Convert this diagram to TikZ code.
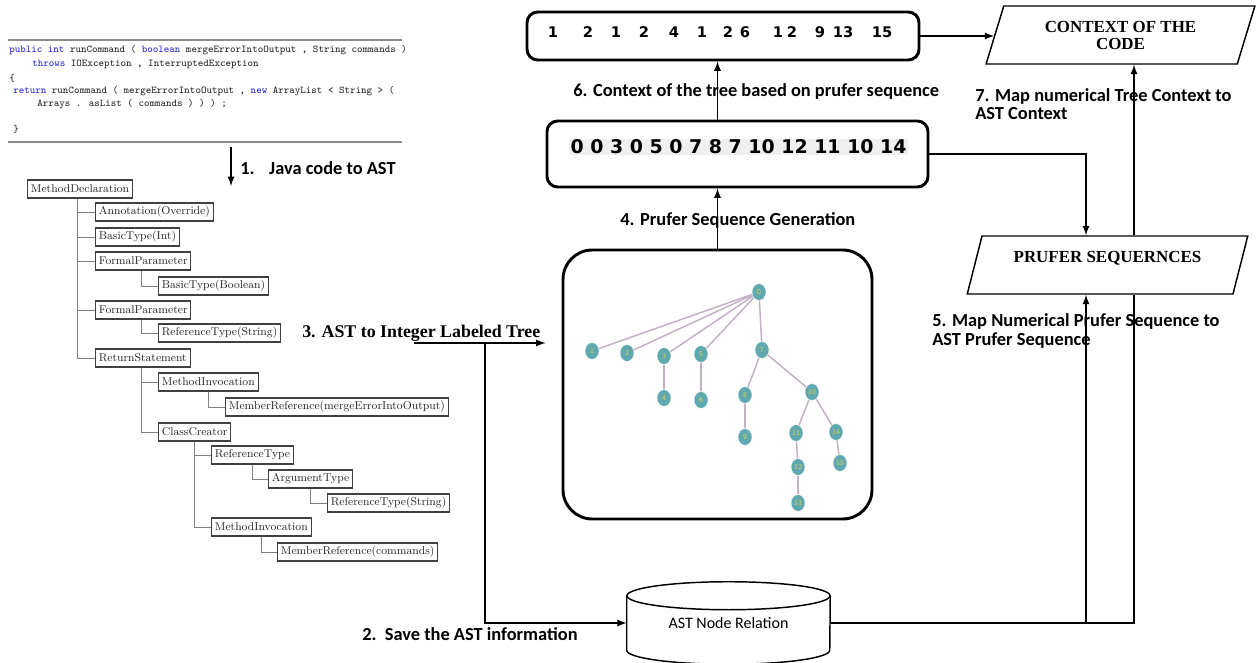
\documentclass[tikz,border=0pt]{standalone}
\usepackage{fontspec}
\usepackage{tikz}
\usetikzlibrary{shapes,arrows,positioning}

\newfontfamily\calib{Carlito}
\newfontfamily\timesf{Liberation Serif}
\newfontfamily\dejavu{DejaVu Sans}

\definecolor{kwblue}{RGB}{40,40,210}
\definecolor{nodeteal}{RGB}{96,168,176}
\definecolor{nodelbl}{RGB}{222,214,80}
\definecolor{edgemauve}{RGB}{196,176,198}

\newcommand{\kw}[1]{\textcolor{kwblue}{#1}}

\tikzset{
  flow/.style={-latex,line width=1.4pt},
  plain/.style={line width=1.4pt},
  astbox/.style={draw=black!75,line width=0.8pt,anchor=west,inner xsep=2.5pt,inner ysep=0pt,minimum height=13.5pt,text=black!85,font=\fontsize{8.5}{10}\selectfont},
  astline/.style={draw=black!50,line width=0.7pt},
  codeline/.style={anchor=west,inner sep=0pt,text=black!85,font=\fontsize{7.8}{9}\ttfamily\selectfont},
  steplabel/.style={anchor=west,inner sep=0pt,align=left,font=\calib\bfseries\fontsize{13.8}{13.8}\selectfont},
  seqbox/.style={draw,rounded corners=8pt,line width=2.2pt},
  datashape/.style={draw,trapezium,trapezium left angle=72,trapezium right angle=108,trapezium stretches=true,line width=1.1pt,align=center,minimum height=43.5pt,font=\timesf\bfseries\fontsize{12.7}{12.75}\selectfont},
  tnode/.style={ellipse,fill=nodeteal,draw=white,line width=0.3pt,minimum width=10.5pt,minimum height=12.5pt,inner sep=0pt,text=nodelbl,font=\sffamily\fontsize{5.5}{5.5}\selectfont},
  tedge/.style={draw=edgemauve,line width=1.1pt}
}

\begin{document}
\begin{tikzpicture}[x=0.75pt,y=-0.75pt]
	\useasboundingbox (0,0) rectangle (1257,663);
	\clip (0,0) rectangle (1257,663);
	\fill[white] (0,0) rectangle (1257,663);

	% the java source
	\draw[black!45,line width=1.1pt] (8,40) -- (402,40);
	\draw[black!45,line width=1.1pt] (8,142) -- (402,142);
	\node[codeline] (code1) at (9,50) {\kw{public} \kw{int} runCommand ( \kw{boolean} mergeErrorIntoOutput , String commands )};
	\node[codeline] (code2) at (32,64) {\kw{throws} IOException , InterruptedException};
	\node[codeline] (code3) at (9,78) {\{};
	\node[codeline] (code4) at (13,91) {\kw{return} runCommand ( mergeErrorIntoOutput , \kw{new} ArrayList < String > (};
	\node[codeline] (code5) at (37,104) {Arrays . asList ( commands ) ) ) ;};
	\node[codeline] (code6) at (13,129) {\}};

	\coordinate (s1top) at (231,147);
	\coordinate (s1bot) at (231,186);
	\draw[flow] (s1top) -- (s1bot);
	\node[steplabel] (lab1) at (240,168) {1.\hspace{11pt}Java code to AST};

	% the AST
	\node[astbox] (md) at (27,189) {MethodDeclaration};
	\node[astbox] (ann) at (95,212) {Annotation(Override)};
	\node[astbox] (bti) at (95,237) {BasicType(Int)};
	\node[astbox] (fp1) at (95,261) {FormalParameter};
	\node[astbox] (btb) at (158,286) {BasicType(Boolean)};
	\node[astbox] (fp2) at (95,310) {FormalParameter};
	\node[astbox] (rts) at (158,333) {ReferenceType(String)};
	\node[astbox] (rs) at (95,358) {ReturnStatement};
	\node[astbox] (mi1) at (158,382) {MethodInvocation};
	\node[astbox] (mr1) at (225,407) {MemberReference(mergeErrorIntoOutput)};
	\node[astbox] (cc) at (158,432) {ClassCreator};
	\node[astbox] (rt) at (211,455) {ReferenceType};
	\node[astbox] (at) at (268,479) {ArgumentType};
	\node[astbox] (rts2) at (327,503) {ReferenceType(String)};
	\node[astbox] (mi2) at (211,527) {MethodInvocation};
	\node[astbox] (mr2) at (277,552) {MemberReference(commands)};
	\foreach \p/\c/\o in {md/ann/38,md/bti/38,md/fp1/38,md/fp2/38,md/rs/38,fp1/btb/35,fp2/rts/35,rs/mi1/35,rs/cc/35,mi1/mr1/37.5,cc/rt/27,cc/mi2/27,rt/at/31,at/rts2/31.5,mi2/mr2/37.5}
		\draw[astline] ([xshift=\o pt]\p.south west) |- (\c.west);

	% boxes and shapes
	\node[seqbox,minimum width=294pt,minimum height=36pt] (ctxbox) at (723,36) {};
	\foreach \d/\x [count=\i] in {1/553,2/588,1/616,2/644,4/674,1/702,2/728,6/745,1/778,2/792,9/820,13/843,15/882}
		\node[inner sep=0pt,font=\dejavu\bfseries\fontsize{11}{13}\selectfont] (cv\i) at (\x,32) {\d};
	\node[seqbox,minimum width=285.75pt,minimum height=49.5pt] (numbox) at (737.5,154) {};
	\node[fill=black!6,inner sep=1pt,font=\dejavu\bfseries\fontsize{14.2}{16}\selectfont] (numseq) at (738.5,147) {0 0 3 0 5 0 7 8 7 10 12 11 10 14};
	\node[seqbox,rounded corners=22pt,minimum width=231.75pt,minimum height=201.75pt] (treebox) at (717.5,384.5) {};
	\node[datashape,minimum width=201.75pt] (context) at (1120.5,35) {CONTEXT OF THE\\CODE};
	\node[datashape,minimum width=210.75pt,text height=8pt,text depth=12pt] (prufer) at (1107.5,265) {PRUFER SEQUERNCES};
	\node[minimum width=152.25pt,minimum height=61.5pt,inner sep=0pt,font=\calib\fontsize{12}{14}\selectfont] (cyl) at (728.5,623) {AST Node Relation};
	\draw[line width=1.1pt] ([yshift=-10.5pt]cyl.north west) -- ([yshift=10.5pt]cyl.south west)
		arc[start angle=180,end angle=360,x radius=76.125pt,y radius=10.5pt] -- ([yshift=-10.5pt]cyl.north east);
	\draw[line width=1.1pt] ([yshift=-10.5pt]cyl.north) ellipse[x radius=76.125pt,y radius=10.5pt];

	% the integer labeled tree
	\foreach \n/\x/\y in {0/759/292,1/592/351,2/627/353,3/664/356,4/664/398,5/701/354,6/701/400,7/762/350,8/745/395,9/745/437,10/812/392,11/796/433,12/798/467,13/798/503,14/836/432,15/840/463}
		\node[tnode] (t\n) at (\x,\y) {\n};
	\foreach \a/\b in {0/1,0/2,0/3,0/5,0/7,3/4,5/6,7/8,7/10,8/9,10/11,10/14,11/12,12/13,14/15}
		\draw[tedge] (t\a) -- (t\b);

	%% the labels
	\node[steplabel] (lab2) at (362,634) {2.\ \ Save the AST information};
	\node[anchor=west,inner sep=0pt,font=\timesf\bfseries\fontsize{13.4}{15}\selectfont] (lab3) at (302,333) {3. AST to Integer Labeled Tree};
	\node[steplabel] (lab4) at (620,220) {4. Prufer Sequence Generation};
	\node[steplabel] (lab5) at (932,331) {5. Map Numerical Prufer Sequence to\\AST Prufer Sequence};
	\node[steplabel] (lab6) at (573,91) {6. Context of the tree based on prufer sequence};
	\node[steplabel] (lab7) at (975,104) {7. Map numerical Tree Context to\\AST Context};

	% connectors
	\coordinate (s3) at (414,343);
	\coordinate (j3) at (485,343);
	\coordinate (jl) at (1086,621);
	\coordinate (jr) at (1134,621);
	\draw[flow,shorten >=12pt] (s3) -- (s3 -| treebox.west);
	\draw[flow] (j3) |- (cyl.west);
	\draw[flow] (treebox.north) -- (treebox.north |- numbox.south);
	\draw[flow] (treebox.north |- numbox.north) -- (treebox.north |- ctxbox.south);
	\draw[flow] (ctxbox.east) -- (ctxbox.east -| context.west);
	\draw[flow] (numbox.east) -| (jl |- prufer.north);
	\draw[plain] (cyl.east) -- (cyl.east -| jr) -- (jr |- prufer.south);
	\draw[flow] (cyl.east -| jl) -- (jl |- prufer.south);
	\draw[flow] (jr |- prufer.north) -- (jr |- context.south);
\end{tikzpicture}
\end{document}
